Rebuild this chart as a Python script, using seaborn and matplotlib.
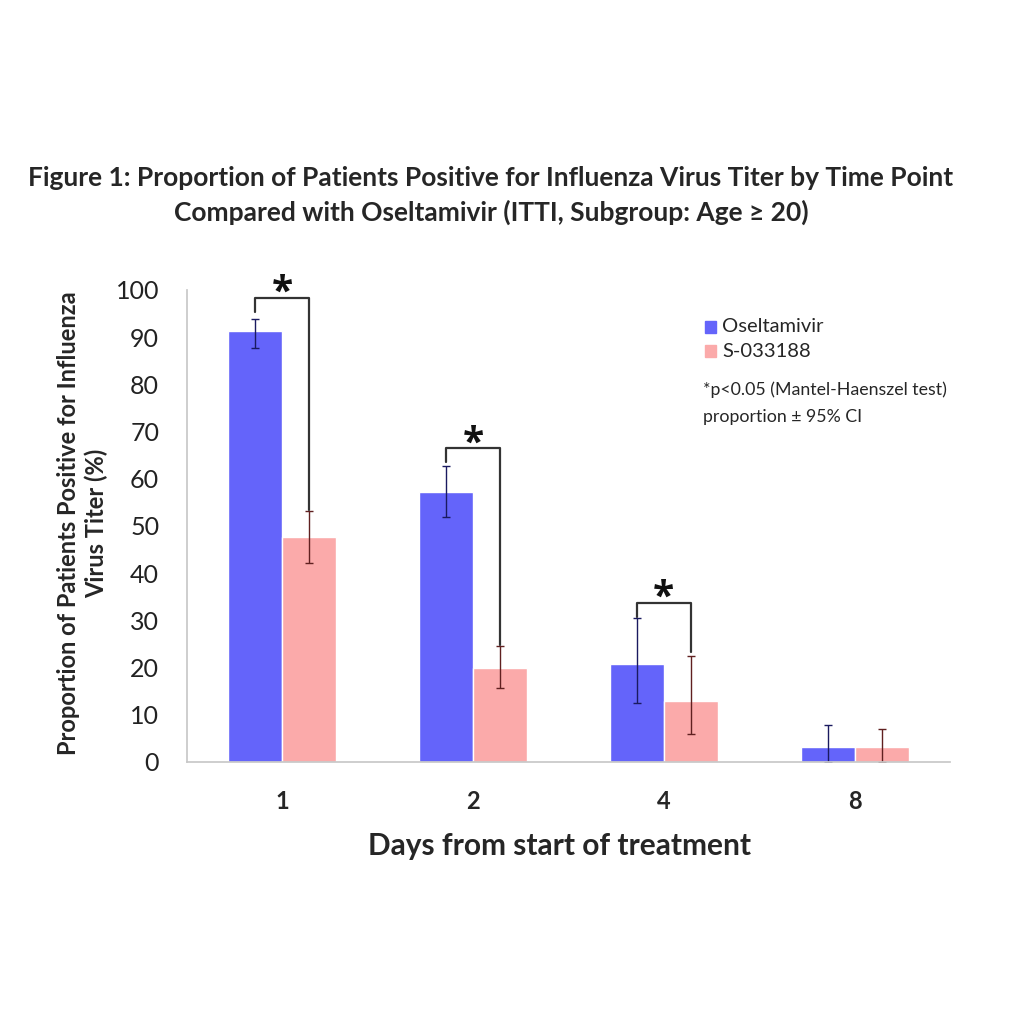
import matplotlib
matplotlib.use("Agg")
import matplotlib.pyplot as plt
import seaborn as sns
import pandas as pd
import numpy as np
from matplotlib.patches import Rectangle

days = ["1", "2", "4", "8"]
series = ["Oseltamivir", "S-033188"]
osel_vals = [91.3, 57.2, 20.8, 3.2]
osel_lo = [87.7, 51.9, 12.5, 0.0]
osel_hi = [93.9, 62.7, 30.5, 7.8]
s_vals = [47.7, 19.9, 12.9, 3.2]
s_lo = [42.2, 15.7, 5.9, 0.0]
s_hi = [53.2, 24.6, 22.5, 7.0]
# significance brackets: day index, bracket top, left leg bottom, right leg bottom
sig_idx = [0, 1, 2]
sig_top = [98.3, 66.5, 33.7]
sig_left = [95.3, 63.6, 30.7]
sig_right = [53.4, 24.8, 23.3]

sns.set_theme(style="white")
plt.rcParams['font.family'] = ['Lato', 'DejaVu Sans']

df = pd.DataFrame({
    "Day": days * 2,
    "Group": [series[0]] * 4 + [series[1]] * 4,
    "Value": osel_vals + s_vals,
})

colors = {"Oseltamivir": "#6464FA", "S-033188": "#FBAAAA"}

fig = plt.figure(figsize=(10.24, 10.24), dpi=100)
ax = fig.add_axes([0.1826, 0.2559, 0.7451, 0.4609])
sns.barplot(data=df, x="Day", y="Value", hue="Group", palette=colors,
            width=0.566, saturation=1, ax=ax, legend=False, errorbar=None)

ax.set_ylim(0, 100)
ax.set_xlim(-0.5, 3.5)
ax.set_yticks(np.arange(0, 101, 10))
ax.tick_params(axis='y', labelsize=18, length=0, pad=20, colors="#222222")
ax.tick_params(axis='x', labelsize=17, length=0, pad=20)
for lbl in ax.get_xticklabels():
    lbl.set_fontweight('bold')
for sp in ["top", "right"]:
    ax.spines[sp].set_visible(False)
ax.spines["left"].set_color("#c8c8c8")
ax.spines["bottom"].set_color("#c8c8c8")

ax.set_xlabel("Days from start of treatment", fontsize=21.5, fontweight='bold')
ax.xaxis.set_label_coords(0.4876, -0.148)
ax.set_ylabel("Proportion of Patients Positive for Influenza\nVirus Titer (%)", fontsize=17,
              fontweight='bold', linespacing=1.25)
ax.yaxis.set_label_coords(-0.1035, 0.506)

centers = []
for cont, vals, lo, hi, ec in zip(ax.containers, [osel_vals, s_vals], [osel_lo, s_lo],
                                   [osel_hi, s_hi], ["#1a1a60", "#602020"]):
    xs = [b.get_x() + b.get_width() / 2 for b in cont]
    centers.append(xs)
    yerr = [np.array(vals) - np.array(lo), np.array(hi) - np.array(vals)]
    ax.errorbar(xs, vals, yerr=yerr, fmt='none', ecolor=ec, elinewidth=1, capsize=3,
                capthick=1)

for i, top, lft, rgt in zip(sig_idx, sig_top, sig_left, sig_right):
    xl = centers[0][i]
    xr = centers[1][i]
    ax.plot([xl, xl, xr, xr], [lft, top, top, rgt], color="#333333", lw=1.6, clip_on=False)
    ax.text((xl + xr) / 2, top - 3.2, "*", ha='center', va='bottom', fontsize=28,
            fontweight='bold', color="#111111", family=['Open Sans', 'DejaVu Sans'])

# legend
fig.patches.append(Rectangle((0.6885, 0.6748), 0.0107, 0.0117, transform=fig.transFigure,
                             color=colors["Oseltamivir"]))
fig.patches.append(Rectangle((0.6885, 0.6514), 0.0107, 0.0117, transform=fig.transFigure,
                             color=colors["S-033188"]))
fig.text(0.7051, 0.6816, "Oseltamivir", fontsize=14.5, va='center', ha='left')
fig.text(0.7051, 0.6572, "S-033188", fontsize=14.5, va='center', ha='left')
fig.text(0.6865, 0.6191, "*p<0.05 (Mantel-Haenszel test)", fontsize=12.8, va='center', ha='left')
fig.text(0.6865, 0.5928, "proportion \u00b1 95% CI", fontsize=12.8, va='center', ha='left')

fig.text(0.4795, 0.8262, "Figure 1: Proportion of Patients Positive for Influenza Virus Titer by Time Point",
         fontsize=19, fontweight='bold', ha='center', va='center')
fig.text(0.4795, 0.7930, "Compared with Oseltamivir (ITTI, Subgroup: Age \u2265 20)",
         fontsize=19, fontweight='bold', ha='center', va='center')

fig.savefig("out.png", dpi=100, facecolor="white")
